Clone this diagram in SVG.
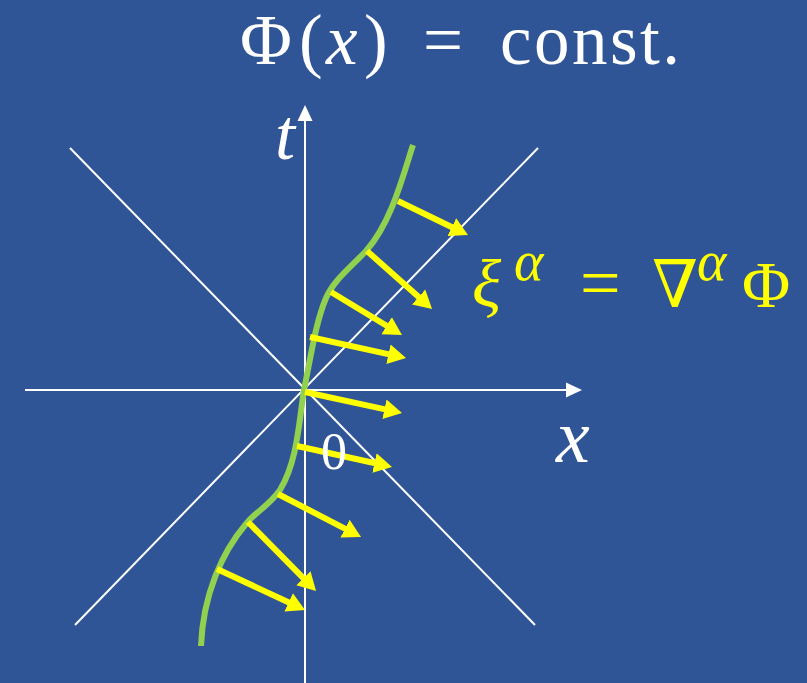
<svg xmlns="http://www.w3.org/2000/svg" width="807" height="683" viewBox="0 0 807 683">
<defs>
<style>
.axis{stroke:#FFFFFF;stroke-width:2;fill:none}
.vec{stroke:#FFFF00;stroke-width:6;fill:none;marker-end:url(#ah)}
.wt{fill:#FFFFFF;font-family:"Liberation Serif","DejaVu Serif",serif}
.yt{fill:#FFFF00;font-family:"Liberation Serif","DejaVu Serif",serif}
.it{font-style:italic}
</style>
<marker id="ah" markerUnits="userSpaceOnUse" markerWidth="20" markerHeight="22" viewBox="0 -11 20 22" refX="2" refY="0" orient="auto">
<path d="M0,-10 L18,0 L0,10 z" fill="#FFFF00"/>
</marker>
<marker id="wh" markerUnits="userSpaceOnUse" markerWidth="18" markerHeight="16" viewBox="0 -8 18 16" refX="1" refY="0" orient="auto">
<path d="M0,-7.5 L16,0 L0,7.5 z" fill="#FFFFFF"/>
</marker>
</defs>
<rect width="807" height="683" fill="#2F5597"/>
<g id="axes">
<line class="axis" x1="70" y1="148" x2="535" y2="625"/>
<line class="axis" x1="538" y1="148" x2="75" y2="625"/>
<line class="axis" x1="25" y1="390" x2="567" y2="390" marker-end="url(#wh)"/>
<line class="axis" x1="305" y1="683" x2="305" y2="120" marker-end="url(#wh)"/>
</g>
<g id="curve">
<path d="M413,145 C404,172 392,222 366,251 C350,268 334,280 326,298 C316,322 312,350 304,390 C299,420 298,460 280,490 C268,507 255,512 246,524 C222,552 203,595 201,646" fill="none" stroke="#92D050" stroke-width="6"/>
</g>
<g id="connectors">
<line class="vec" x1="398" y1="201" x2="453.6" y2="228"/>
<line class="vec" x1="367" y1="251" x2="420.1" y2="298.3"/>
<line class="vec" x1="331" y1="292" x2="388.3" y2="326.7"/>
<line class="vec" x1="310" y1="337" x2="390.4" y2="354.6"/>
<line class="vec" x1="305" y1="392" x2="386.4" y2="409.6"/>
<line class="vec" x1="297" y1="446" x2="376.4" y2="463.5"/>
<line class="vec" x1="278" y1="494" x2="346.8" y2="529.6"/>
<line class="vec" x1="248" y1="522" x2="304.8" y2="579.6"/>
<line class="vec" x1="217" y1="569" x2="290.5" y2="603.2"/>
</g>
<g id="title">
<text class="wt" font-size="71" y="63.5"><tspan x="240">Φ</tspan><tspan x="299">(</tspan><tspan x="326" class="it">x</tspan><tspan x="364">)</tspan><tspan x="423">=</tspan><tspan x="500" textLength="180">const.</tspan></text>
</g>
<g id="label-xi">
<text class="yt" font-size="66" y="307"><tspan x="472" class="it" font-size="68">ξ</tspan><tspan x="514" y="280" class="it" font-size="56">α</tspan><tspan x="580" y="307" font-size="72">=</tspan><tspan x="652" y="307">∇</tspan><tspan x="697" y="280" class="it" font-size="56">α</tspan><tspan x="742" y="307">Φ</tspan></text>
</g>
<g id="label-t"><text class="wt it" font-size="72" x="275" y="159">t</text></g>
<g id="label-x"><text class="wt it" font-size="76" x="556" y="462">x</text></g>
<g id="label-0"><text class="wt" font-size="52" x="321" y="469">0</text></g>
</svg>
